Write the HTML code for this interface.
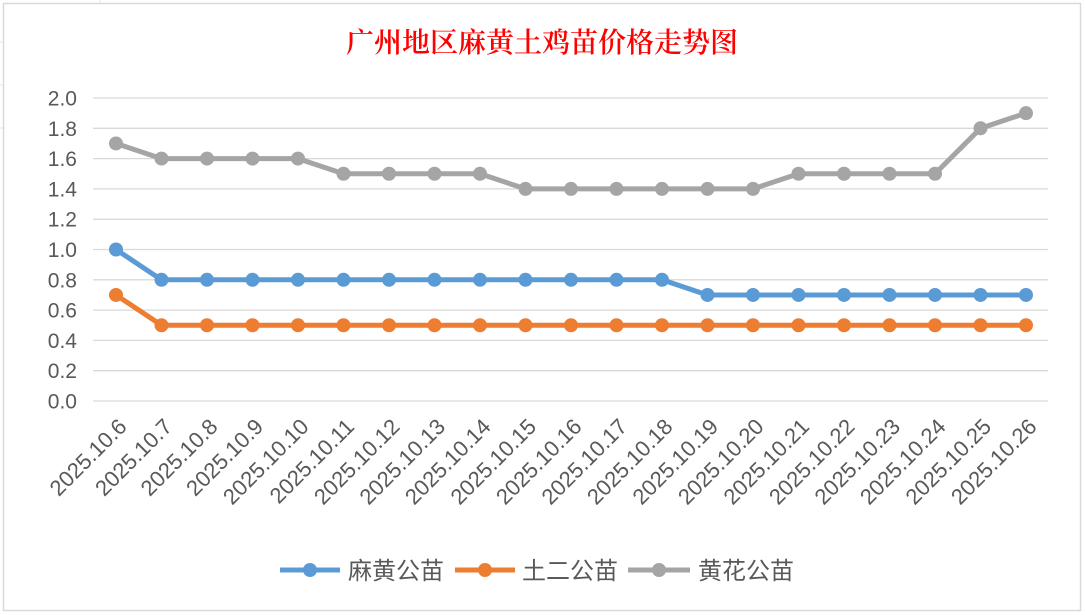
<!DOCTYPE html><html><head><meta charset="utf-8"><style>body{margin:0;background:#fff}svg{display:block}</style></head><body>
<svg width="1085" height="615" xmlns="http://www.w3.org/2000/svg" font-family="Liberation Sans, Noto Sans CJK SC, sans-serif">
<rect x="0" y="0" width="1085" height="615" fill="#fff"/>
<g stroke="#e6e6e6"><line x1="100" y1="0" x2="100" y2="4"/><line x1="0" y1="42" x2="3" y2="42"/><line x1="0" y1="85" x2="3" y2="85"/><line x1="0" y1="128" x2="3" y2="128"/></g>
<rect x="3.5" y="3.5" width="1077" height="607" fill="#fff" stroke="#d9d9d9" stroke-width="1.5"/>
<text x="542" y="52" text-anchor="middle" font-size="28" font-weight="600" fill="#ff0000" font-family="Noto Serif CJK SC, serif">广州地区麻黄土鸡苗价格走势图</text>
<g id="grid" stroke="#d9d9d9" stroke-width="1.3"></g>
<g id="yl" font-size="21" fill="#595959" text-anchor="end"></g>
<g id="xl" font-size="22" fill="#595959"></g>
<g id="ser"></g>
<g font-size="24" fill="#595959" font-family="Noto Sans CJK SC, sans-serif">
<line x1="280" y1="570" x2="340" y2="570" stroke="#5b9bd5" stroke-width="5"/><circle cx="310" cy="570" r="7" fill="#5b9bd5"/><text x="348" y="579">麻黄公苗</text>
<line x1="455" y1="570" x2="515" y2="570" stroke="#ed7d31" stroke-width="5"/><circle cx="485" cy="570" r="7" fill="#ed7d31"/><text x="522" y="579">土二公苗</text>
<line x1="628" y1="570" x2="690" y2="570" stroke="#a5a5a5" stroke-width="5"/><circle cx="659" cy="570" r="7" fill="#a5a5a5"/><text x="698" y="579">黄花公苗</text>
</g>
</svg>
<script>
const ns="http://www.w3.org/2000/svg";
function el(p,t,a,txt){const e=document.createElementNS(ns,t);for(const k in a)e.setAttribute(k,a[k]);if(txt)e.textContent=txt;document.getElementById(p).appendChild(e);}
const Y=v=>401-v*151.5, X=i=>116+i*45.5;
for(let k=0;k<=10;k++){const y=Y(k*0.2);el("grid","line",{x1:93,x2:1048,y1:y,y2:y});el("yl","text",{x:77,y:y+7.5},(k*0.2).toFixed(1));}
for(let i=0;i<21;i++){const x=X(i)+12,y=428;el("xl","text",{x:x,y:y,"text-anchor":"end",transform:`rotate(-45 ${x} ${y})`},"2025.10."+(6+i));}
const g=[1.7,1.6,1.6,1.6,1.6,1.5,1.5,1.5,1.5,1.4,1.4,1.4,1.4,1.4,1.4,1.5,1.5,1.5,1.5,1.8,1.9];
const b=[1.0];for(let i=1;i<13;i++)b.push(0.8);while(b.length<21)b.push(0.7);
const o=[0.7];while(o.length<21)o.push(0.5);
[[b,"#5b9bd5"],[o,"#ed7d31"],[g,"#a5a5a5"]].forEach(([d,c])=>{el("ser","polyline",{points:d.map((v,i)=>X(i)+","+Y(v)).join(" "),fill:"none",stroke:c,"stroke-width":5,"stroke-linejoin":"round"});d.forEach((v,i)=>el("ser","circle",{cx:X(i),cy:Y(v),r:7,fill:c}));});
</script>
</body></html>
